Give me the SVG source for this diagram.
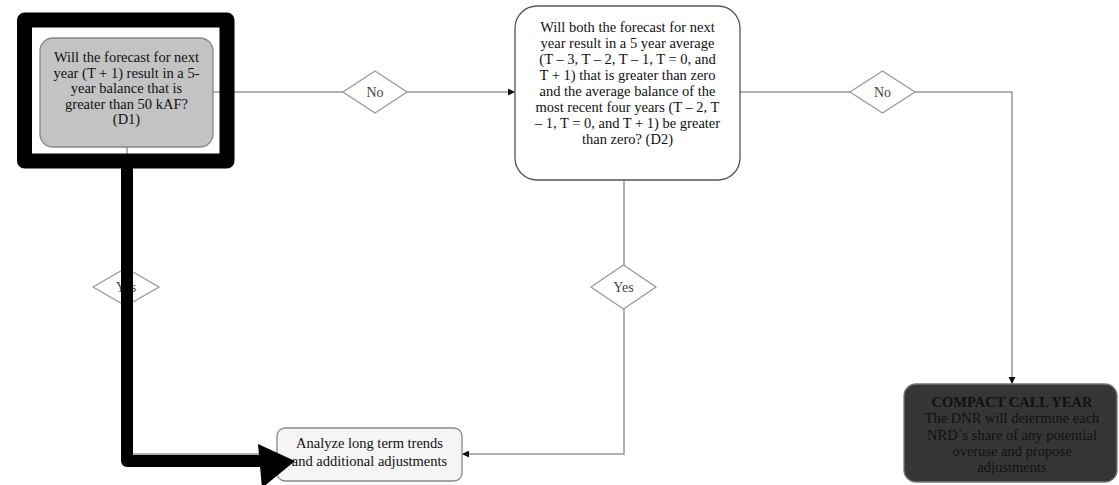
<svg xmlns="http://www.w3.org/2000/svg" width="1119" height="485" viewBox="0 0 1119 485">
<style>
.conn{fill:none;stroke:#999;stroke-width:1.5}
.dia{fill:#fff;stroke:#999;stroke-width:1.3}
.lbl{font-family:"Liberation Serif",serif;font-size:14px;fill:#444;text-anchor:middle}
.t{font-family:"Liberation Serif",serif;font-size:14.5px;fill:#111;text-anchor:middle}
</style>
<defs>
<marker id="ah" viewBox="0 0 10 10" refX="10" refY="5" markerWidth="7" markerHeight="7" markerUnits="userSpaceOnUse" orient="auto"><path d="M0,0L10,5L0,10z" fill="#111"/></marker>
</defs>
<rect width="1119" height="485" fill="#fff"/>
<g id="connectors">
<path class="conn" d="M213,92H515" marker-end="url(#ah)"/>
<path class="conn" d="M740,92H1012V384" marker-end="url(#ah)"/>
<path class="conn" d="M624,180V454H462" marker-end="url(#ah)"/>
<path class="conn" d="M127,147V454H277" marker-end="url(#ah)"/>
</g>
<g id="d1">
<rect x="40" y="38" width="173" height="109" rx="13" fill="#c3c3c3" stroke="#888" stroke-width="1.3"/>
<text class="t"><tspan x="126.5" y="62">Will the forecast for next</tspan><tspan x="126.5" y="77.5">year (T + 1) result in a 5-</tspan><tspan x="126.5" y="93">year balance that is</tspan><tspan x="126.5" y="108.5">greater than 50 kAF?</tspan><tspan x="126.5" y="124">(D1)</tspan></text>
</g>
<g id="no1"><path class="dia" d="M343,92L375,71L407,92L375,113z"/><text class="lbl" x="375" y="97">No</text></g>
<g id="d2">
<rect x="515" y="6" width="225" height="174" rx="22" fill="#fff" stroke="#555" stroke-width="1.3"/>
<text class="t"><tspan x="627.5" y="32">Will both the forecast for next</tspan><tspan x="627.5" y="48">year result in a 5 year average</tspan><tspan x="627.5" y="64">(T – 3, T – 2, T – 1, T = 0, and</tspan><tspan x="627.5" y="80">T + 1) that is greater than zero</tspan><tspan x="627.5" y="96">and the average balance of the</tspan><tspan x="627.5" y="112">most recent four years (T – 2, T</tspan><tspan x="627.5" y="128">– 1, T = 0, and T + 1) be greater</tspan><tspan x="627.5" y="144">than zero? (D2)</tspan></text>
</g>
<g id="no2"><path class="dia" d="M850,92L882.5,71L915,92L882.5,113z"/><text class="lbl" x="882.5" y="97">No</text></g>
<g id="yes2"><path class="dia" d="M591,287L623.5,265L656,287L623.5,309z"/><text class="lbl" x="623.5" y="292">Yes</text></g>
<g id="yes1"><path class="dia" d="M93,287L126,268L159,287L126,306z"/><text class="lbl" x="126" y="292">Yes</text></g>
<g id="analyze">
<rect x="277" y="428" width="185" height="53" rx="8" fill="#f5f5f5" stroke="#888" stroke-width="1.3"/>
<text class="t" font-size="14"><tspan x="369.5" y="448">Analyze long term trends</tspan><tspan x="369.5" y="466">and additional adjustments</tspan></text>
</g>
<g id="compact">
<rect x="904" y="384" width="213" height="98" rx="12" fill="#363636" stroke="#777" stroke-width="1.3"/>
<text class="t" font-size="14"><tspan x="1012" y="407" font-weight="bold">COMPACT CALL YEAR</tspan><tspan x="1012" y="423">The DNR will determine each</tspan><tspan x="1012" y="440">NRD`s share of any potential</tspan><tspan x="1012" y="456">overuse and propose</tspan><tspan x="1012" y="472">adjustments</tspan></text>
</g>
<g id="annotation">
<rect x="24.5" y="20" width="202.5" height="141" fill="none" stroke="#000" stroke-width="15" stroke-linejoin="round"/>
<path d="M127,161V461H262" fill="none" stroke="#000" stroke-width="12" stroke-linejoin="round"/>
<path d="M258,444L295,461L262,488z" fill="#000"/>
</g>
</svg>
